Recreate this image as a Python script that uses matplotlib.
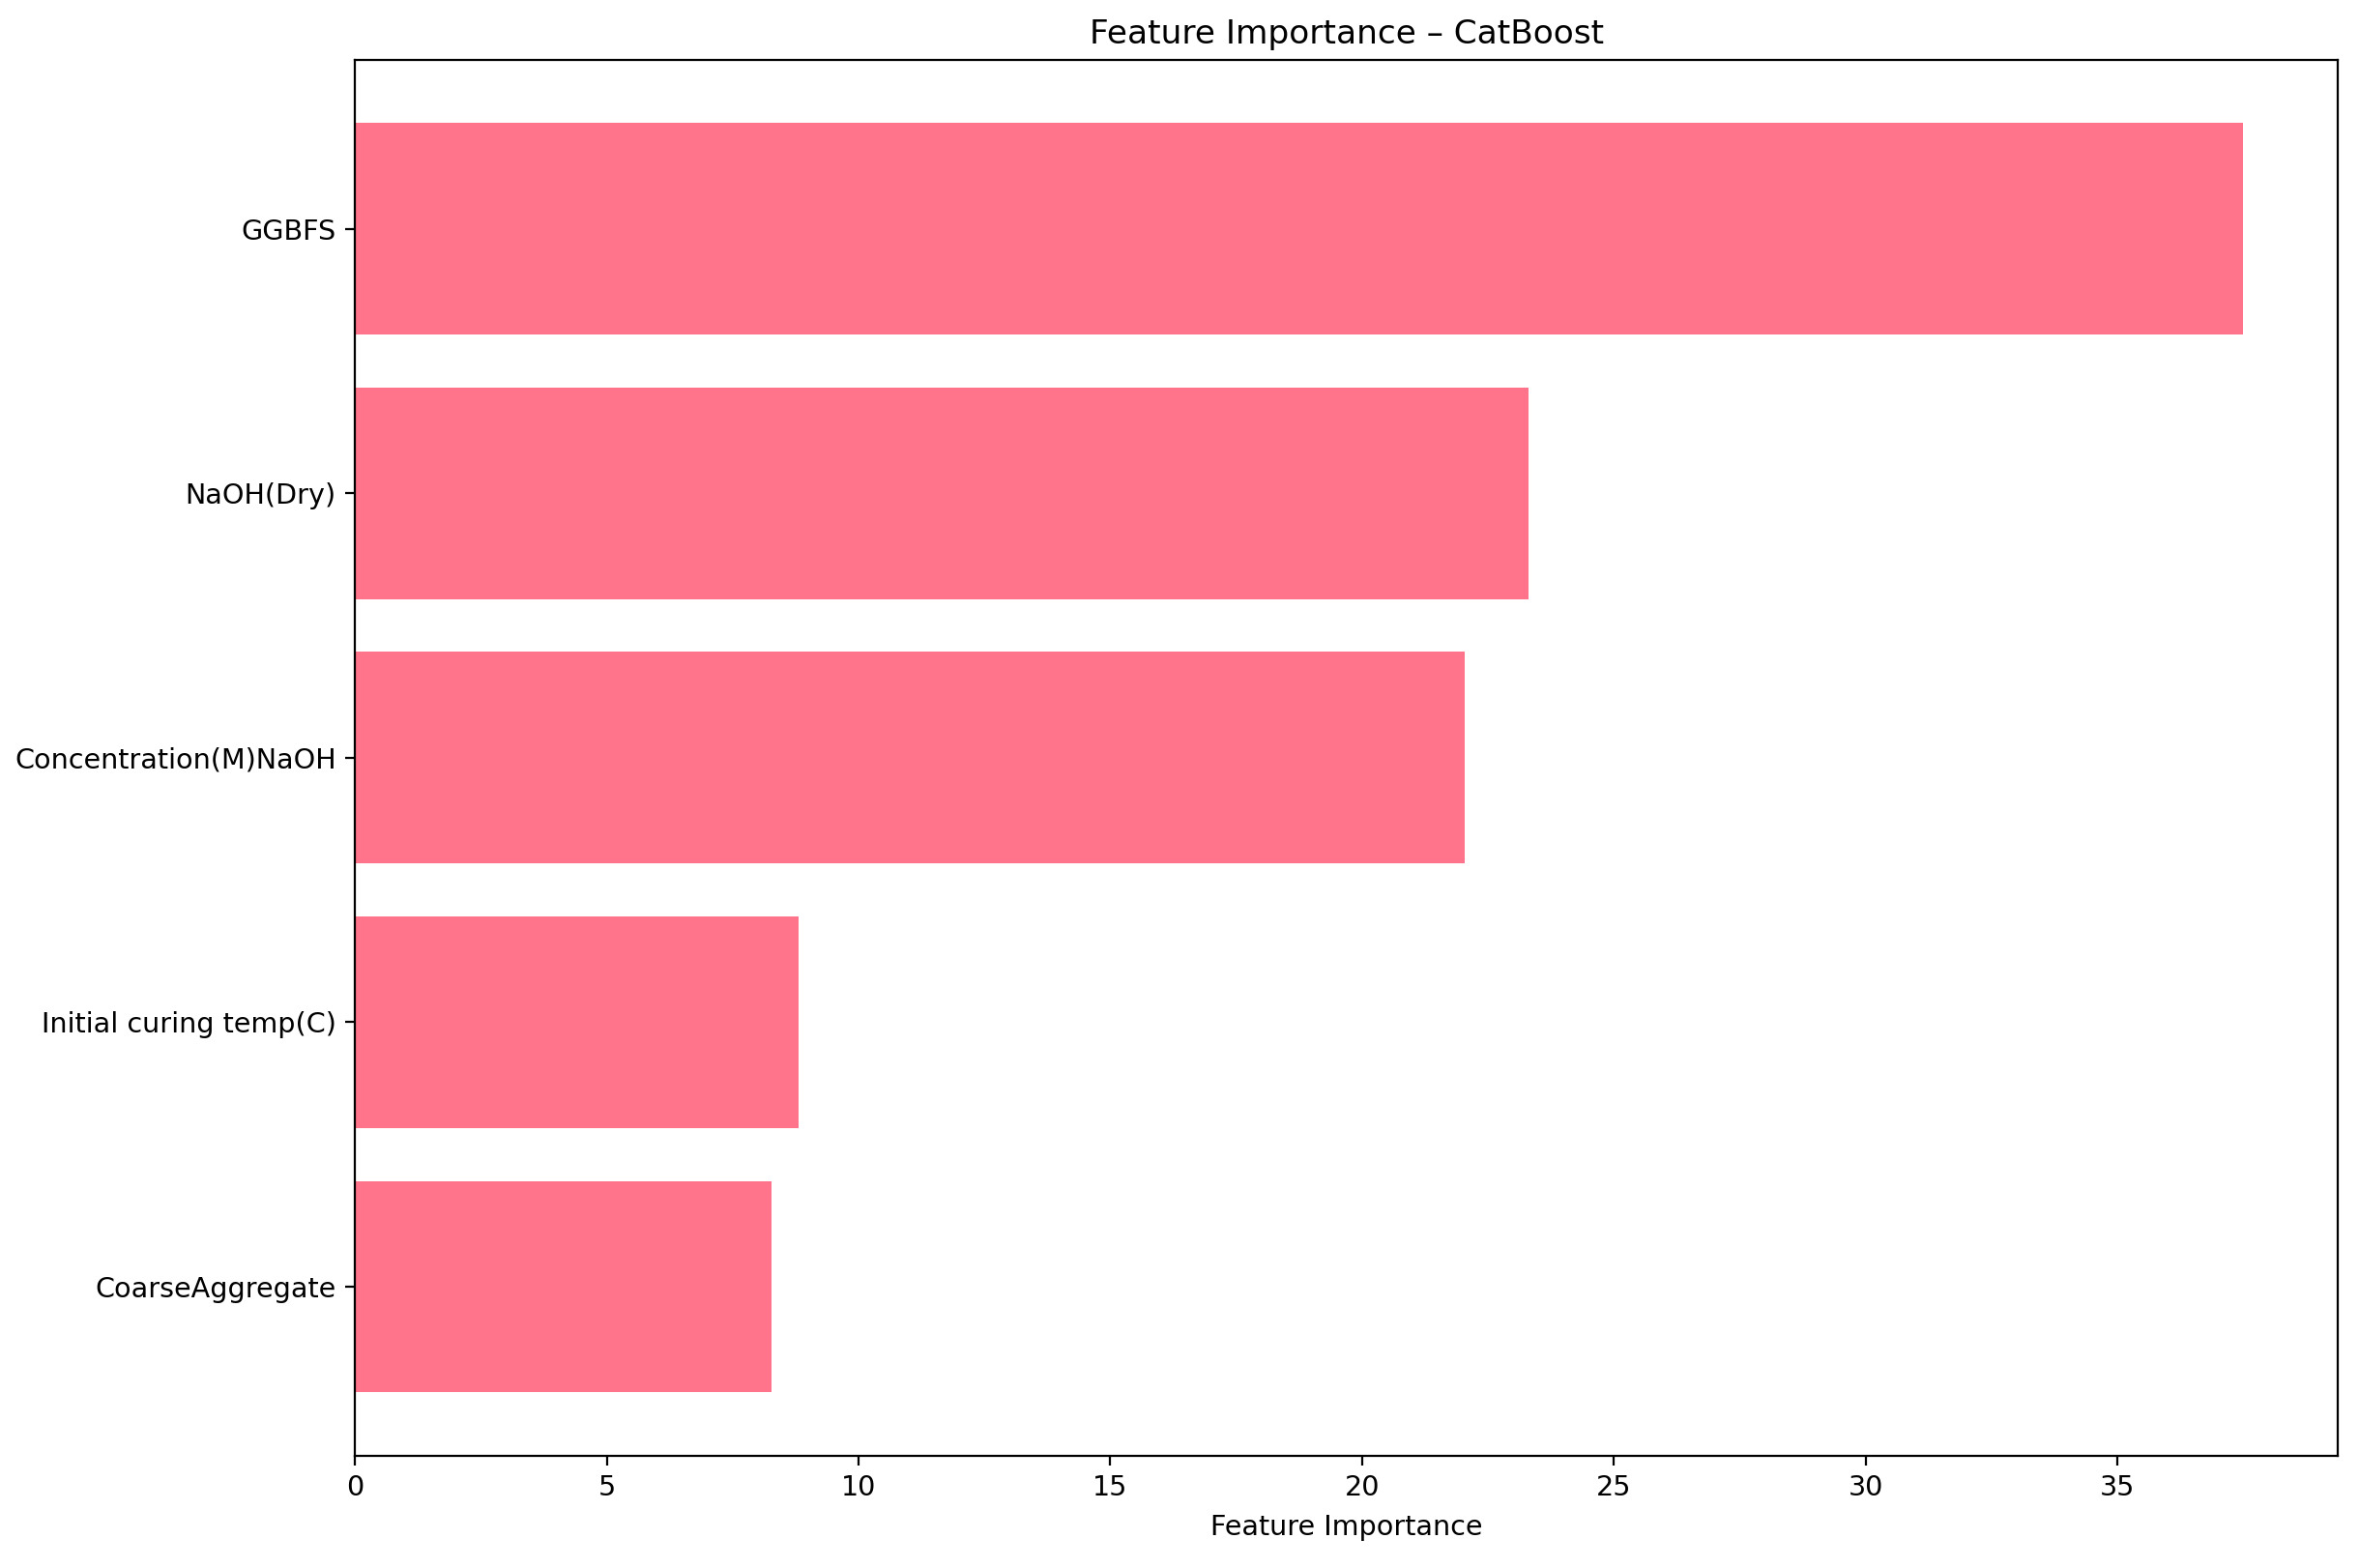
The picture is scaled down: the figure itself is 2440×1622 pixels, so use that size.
import matplotlib
matplotlib.use("Agg")
import matplotlib.pyplot as plt

features = ["GGBFS", "NaOH(Dry)", "Concentration(M)NaOH", "Initial curing temp(C)", "CoarseAggregate"]
importance = [37.50, 23.30, 22.03, 8.81, 8.28]

plt.rcParams["font.size"] = 10.3
fig, ax = plt.subplots(figsize=(12.2, 8.11), dpi=200)
ax.barh(features[::-1], importance[::-1], color="#FF738B")
ax.set_xlabel("Feature Importance", labelpad=4.6)
ax.set_title("Feature Importance – CatBoost", fontsize=12.4)
fig.subplots_adjust(left=0.1505, right=0.991, top=0.962, bottom=0.0715)
fig.savefig("out.png", dpi=200)
